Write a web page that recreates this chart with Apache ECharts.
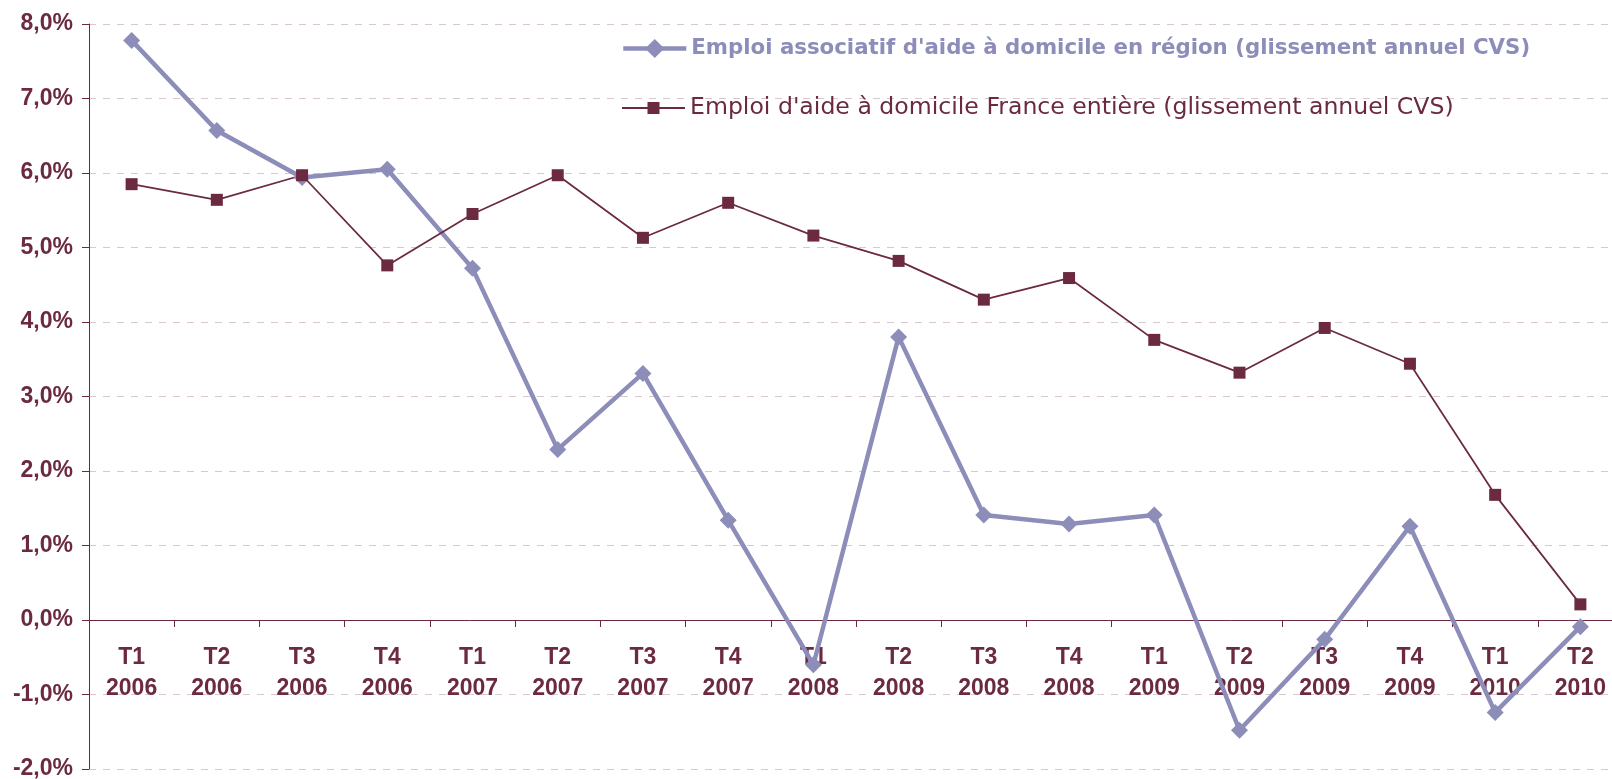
<!DOCTYPE html>
<html>
<head>
<meta charset="utf-8">
<script src="https://cdn.jsdelivr.net/npm/echarts@6/dist/echarts.min.js"></script>
<style>
    html, body { margin: 0; padding: 0; background: #fff; }
    #main { width: 1612px; height: 779px; }
</style>
</head>
<body>
<div id="main"></div>
<script>
// trimestres et années de l'axe horizontal
var quarters = ['T1', 'T2', 'T3', 'T4', 'T1', 'T2', 'T3', 'T4', 'T1', 'T2', 'T3', 'T4', 'T1', 'T2', 'T3', 'T4', 'T1', 'T2'];
var years = ['2006', '2006', '2006', '2006', '2007', '2007', '2007', '2007', '2008', '2008', '2008', '2008', '2009', '2009', '2009', '2009', '2010', '2010'];

// glissement annuel CVS, en %
var regionValues = [7.78, 6.57, 5.94, 6.05, 4.72, 2.29, 3.31, 1.34, -0.6, 3.80, 1.41, 1.29, 1.41, -1.48, -0.26, 1.26, -1.24, -0.09];
var franceValues = [5.85, 5.64, 5.97, 4.76, 5.45, 5.97, 5.13, 5.60, 5.16, 4.82, 4.30, 4.59, 3.76, 3.32, 3.92, 3.44, 1.68, 0.21];

var regionName = "Emploi associatif d'aide à domicile en région (glissement annuel CVS)";
var franceName = "Emploi d'aide à domicile France entière (glissement annuel CVS)";

var maroon = '#6b2a40';
var lavender = '#8d8dba';

var yMin = -2;
var yMax = 8;
var gridTop = 24;
var gridBottom = 10;
var chartHeight = 779;

var categories = [];
for (var i = 0; i < quarters.length; i++) {
    categories.push(quarters[i] + '\n' + years[i]);
}

// l'axe des abscisses est placé sur la ligne du zéro (étiquettes comprises)
var zeroOffset = -(chartHeight - gridTop - gridBottom) * (0 - yMin) / (yMax - yMin);

var myChart = echarts.init(document.getElementById('main'));
var option = {
    animation: false,
    textStyle: { fontFamily: 'Liberation Sans, Arial, sans-serif' },
    grid: { left: 89, top: gridTop, right: -11, bottom: gridBottom, outerBoundsMode: 'none' },
    // deux légendes pour avoir des tailles de symbole différentes
    legend: [
        {
            orient: 'vertical',
            left: 616,
            top: 33,
            itemWidth: 63,
            itemHeight: 24,
            lineStyle: { width: 4.5 },
            data: [
                { name: regionName, textStyle: { color: lavender, fontWeight: 'bold', fontSize: 21.3, fontFamily: 'DejaVu Sans' } }
            ]
        },
        {
            orient: 'vertical',
            left: 616,
            top: 91,
            itemWidth: 63,
            itemHeight: 15,
            lineStyle: { width: 2 },
            data: [
                { name: franceName, textStyle: { color: maroon, fontSize: 23.6, fontFamily: 'DejaVu Sans' } }
            ]
        }
    ],
    xAxis: {
        type: 'category',
        data: categories,
        boundaryGap: true,
        position: 'bottom',
        offset: zeroOffset,
        axisLine: { onZero: false, lineStyle: { color: maroon, width: 1 } },
        axisTick: { show: true, length: 7, lineStyle: { color: maroon } },
        axisLabel: {
            interval: 0,
            margin: 22,
            color: maroon,
            fontWeight: 'bold',
            fontSize: 23,
            lineHeight: 31
        },
        splitLine: { show: false }
    },
    yAxis: {
        type: 'value',
        min: yMin,
        max: yMax,
        interval: 1,
        axisLine: { show: true, lineStyle: { color: maroon, width: 1 } },
        axisTick: { show: true, length: 7, lineStyle: { color: maroon } },
        axisLabel: {
            margin: 16,
            color: maroon,
            fontWeight: 'bold',
            fontSize: 23,
            formatter: function (v) {
                return v.toFixed(1).replace('.', ',') + '%';
            }
        },
        splitLine: { lineStyle: { color: '#d8c8cc', type: [7, 7], width: 1 } }
    },
    series: [
        {
            name: regionName,
            type: 'line',
            data: regionValues,
            symbol: 'diamond',
            symbolSize: 17,
            itemStyle: { color: lavender },
            lineStyle: { color: lavender, width: 4.5 }
        },
        {
            name: franceName,
            type: 'line',
            data: franceValues,
            symbol: 'rect',
            symbolSize: 12,
            itemStyle: { color: maroon },
            lineStyle: { color: maroon, width: 1.75 }
        }
    ]
};
myChart.setOption(option);
</script>
</body>
</html>
